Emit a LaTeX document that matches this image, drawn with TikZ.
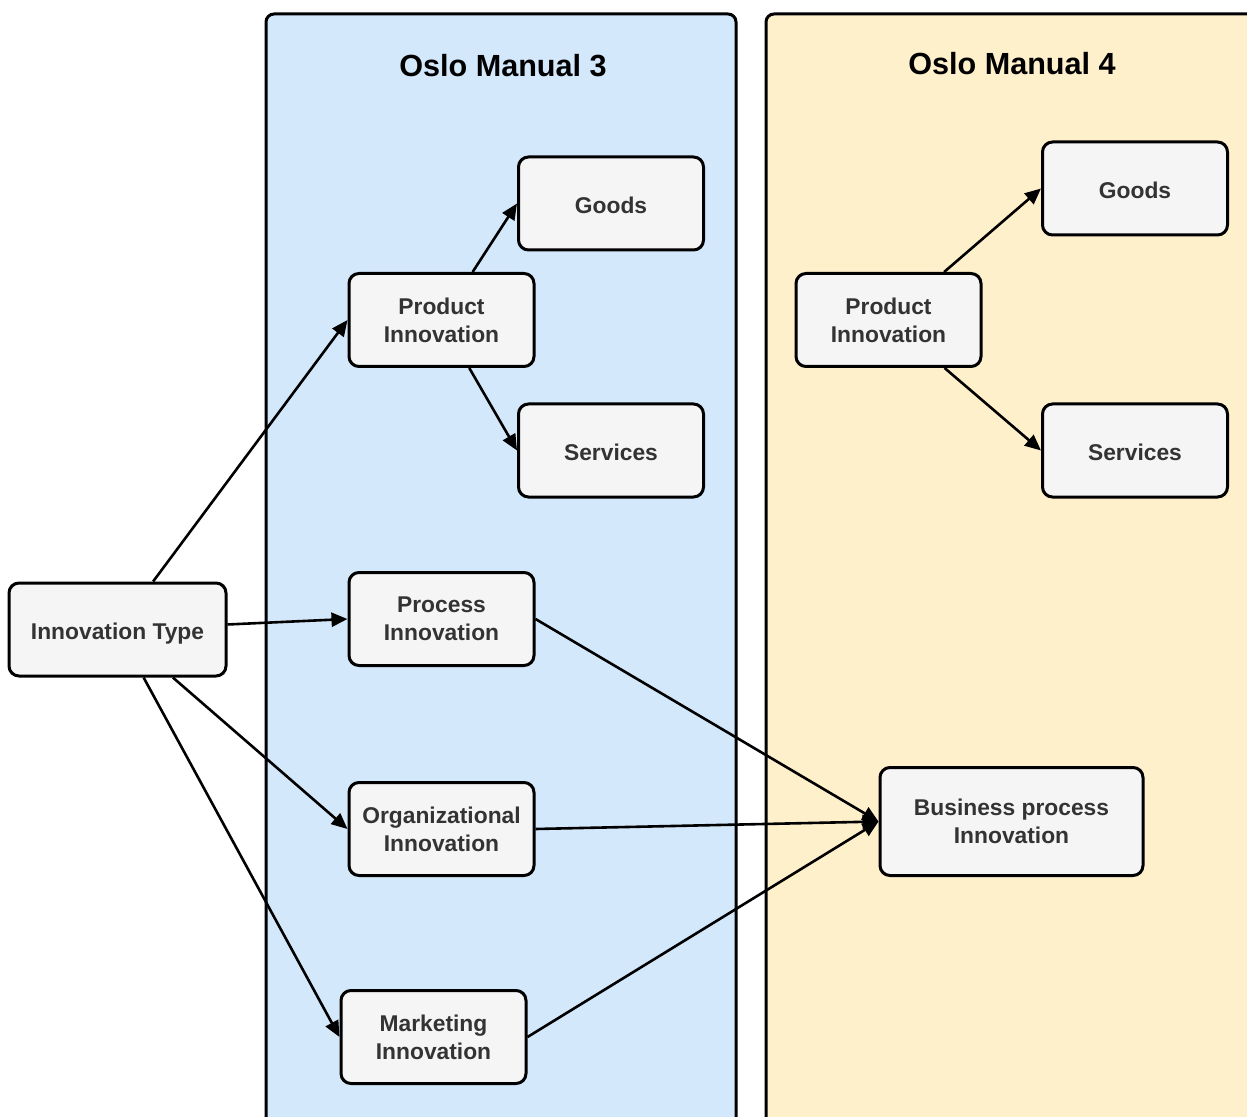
\documentclass[tikz,border=0pt]{standalone}
\usepackage{fontspec}
\setmainfont{Liberation Sans}
\usepackage{tikz}
\usetikzlibrary{arrows.meta}
\definecolor{omblue}{HTML}{D4E8FC}
\definecolor{omyellow}{HTML}{FFF0CC}
\definecolor{boxgray}{HTML}{F5F5F5}
\definecolor{txtgray}{HTML}{333333}

\begin{document}
\begin{tikzpicture}[x=0.5pt,y=-0.5pt,
  box/.style={draw,line width=1.5pt,rounded corners=5pt,fill=boxgray,text=txtgray,
    font=\fontsize{11.4}{14}\selectfont\bfseries,align=center,
    minimum width=92.5pt,minimum height=46.5pt,inner sep=0pt},
  onebox/.style={box,text height=12pt,text depth=2.3pt},
  arr/.style={-{Triangle[length=8pt,width=7pt]},line width=1.3pt},
  panel/.style={draw,line width=1.5pt,rounded corners=4pt},
  title/.style={font=\fontsize{15.3}{18}\selectfont\bfseries}]
\useasboundingbox (0,0) rectangle (1247,1117);
%%%% panels
\begin{scope}
\clip (0,0) rectangle (1247,1117);
\draw[panel,fill=omblue] (266,14) rectangle (736,1140);
\draw[panel,fill=omyellow] (766,14) rectangle (1270,1140);
\end{scope}
\node[title] (om3) at (503,66) {Oslo Manual 3};
\node[title] (om4) at (1012,64) {Oslo Manual 4};
%%%% boxes
\node[onebox,minimum width=108.5pt] (itype) at (117.5,629.5) {Innovation Type};
\node[box] (prod3) at (441.5,320) {Product\\Innovation};
\node[onebox] (goods3) at (611,203.5) {Goods};
\node[onebox] (serv3) at (611,450.5) {Services};
\node[box] (proc3) at (441.5,619) {Process\\Innovation};
\node[box] (org3) at (441.5,829) {Organizational\\Innovation};
\node[box] (mkt3) at (433.5,1037) {Marketing\\Innovation};
%
\node[box] (prod4) at (888.5,320) {Product\\Innovation};
\node[onebox] (goods4) at (1135,188.5) {Goods};
\node[onebox] (serv4) at (1135,450.5) {Services};
\node[box,minimum width=131.5pt,minimum height=54pt] (bpi) at (1011.5,821.5) {Business process\\Innovation};
%%%% arrows
\draw[arr] (itype) -- (prod3.west);
\draw[arr] (itype) -- (proc3.west);
\draw[arr] (itype) -- (org3.west);
\draw[arr] (itype) -- (mkt3.west);
\draw[arr] (prod3) -- (goods3.west);
\draw[arr] (prod3) -- (serv3.west);
\draw[arr] (prod4) -- (goods4.west);
\draw[arr] (prod4) -- (serv4.west);
%merge into OM4
\draw[arr] (proc3.east) -- (bpi.west);
\draw[arr] (org3.east) -- (bpi.west);
\draw[arr] (mkt3.east) -- (bpi.west);
\end{tikzpicture}
\end{document}
